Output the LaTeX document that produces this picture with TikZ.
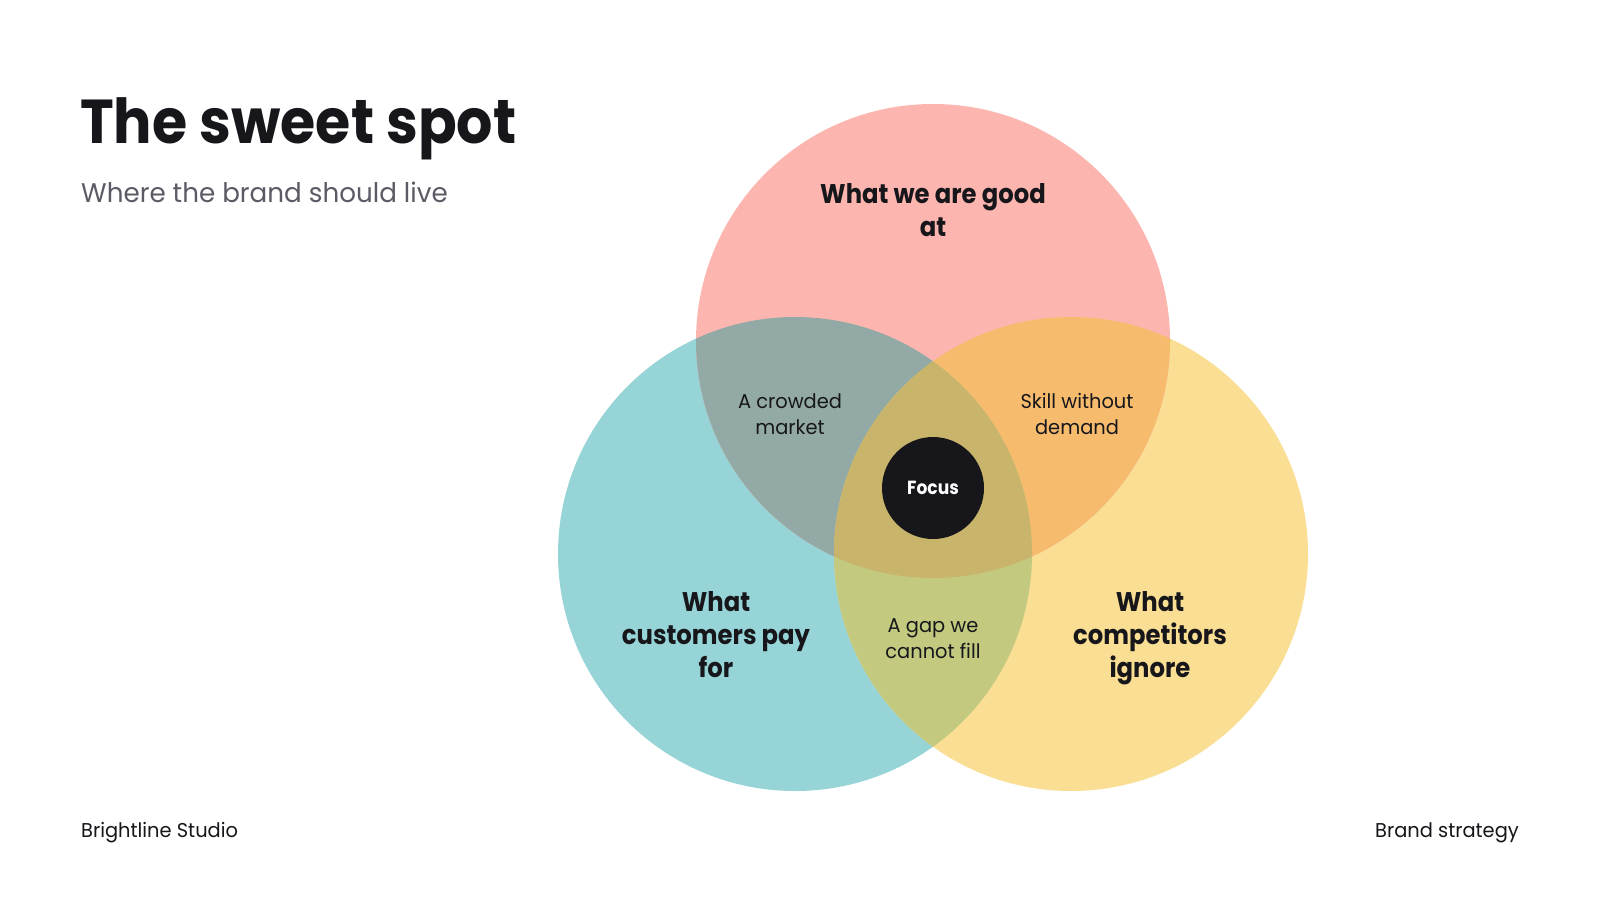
\documentclass[tikz,border=0pt]{standalone}
\usepackage{fontspec}
\setmainfont{Poppins}
\newfontfamily\titlefont[FakeStretch=0.92]{Poppins}
\newfontfamily\labelfont[FakeStretch=0.9]{Poppins}
\newfontfamily\subfont[FakeStretch=0.97]{Poppins}
\definecolor{ink}{HTML}{17171B}
\definecolor{subgray}{HTML}{5B5B66}
\definecolor{cpink}{HTML}{FCB6AF}
\definecolor{cteal}{HTML}{97D4D7}
\definecolor{cyellow}{HTML}{F9DE93}
\definecolor{ctl}{HTML}{93A9A5}
\definecolor{ctr}{HTML}{F7BB6D}
\definecolor{clr}{HTML}{C3CA80}
\definecolor{call}{HTML}{C8B46A}
\tikzset{
  biglabel/.style={align=center, text=ink, font=\labelfont\fontsize{27pt}{33pt}\selectfont\bfseries},
  smalllabel/.style={align=center, text=ink, font=\subfont\fontsize{20pt}{26pt}\selectfont},
  footer/.style={text=ink, font=\subfont\fontsize{20pt}{24pt}\selectfont, inner sep=0pt}
}
\begin{document}
\begin{tikzpicture}[x=1pt,y=-1pt]
\useasboundingbox (0,0) rectangle (1600,900);
\fill[white] (0,0) rectangle (1600,900);
\def\Ctop{(933,341) circle[radius=237pt]}
\def\Cleft{(795,554) circle[radius=237pt]}
\def\Cright{(1071,554) circle[radius=237pt]}
% base circles
\fill[cteal] \Cleft;
\fill[cyellow] \Cright;
\fill[cpink] \Ctop;
% overlaps
\begin{scope}\clip \Ctop; \fill[ctl] \Cleft; \end{scope}
\begin{scope}\clip \Ctop; \fill[ctr] \Cright; \end{scope}
\begin{scope}\clip \Cleft; \fill[clr] \Cright; \end{scope}
\begin{scope}\clip \Ctop; \clip \Cleft; \fill[call] \Cright; \end{scope}
% focus
\node[circle, fill=ink, minimum size=102pt, inner sep=0pt, text=white,
      font=\labelfont\fontsize{19pt}{22pt}\selectfont\bfseries] (focus) at (933,488) {Focus};
% title
\node[anchor=base west, inner sep=0pt, text=ink, font=\titlefont\fontsize{62pt}{70pt}\selectfont\bfseries] (title) at (80,143) {The sweet spot};
\node[anchor=base west, inner sep=0pt, text=subgray, font=\subfont\fontsize{27pt}{32pt}\selectfont] (subtitle) at (81,202) {Where the brand should live};
% labels
\node[biglabel] (good) at (933,210) {What we are good\\at};
\node[biglabel] (pay) at (716,635) {What\\customers pay\\for};
\node[biglabel] (ignore) at (1150,638) {What\\competitors\\ignore};
\node[smalllabel] (crowded) at (790,414) {A crowded\\market};
\node[smalllabel] (skill) at (1077,414) {Skill without\\demand};
\node[smalllabel] (gap) at (933,639) {A gap we\\cannot fill};
% footer
\node[footer, anchor=base west] (studio) at (81,837) {Brightline Studio};
\node[footer, anchor=base east] (strategy) at (1519,837) {Brand strategy};
\end{tikzpicture}
\end{document}
